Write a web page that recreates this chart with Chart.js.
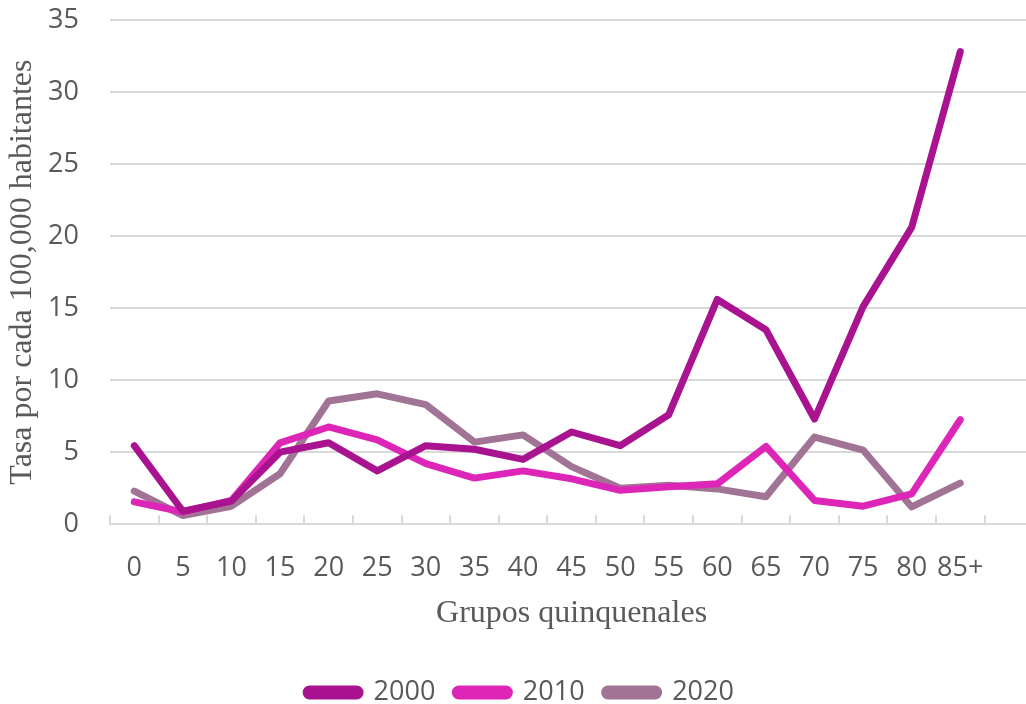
<!DOCTYPE html>
<html>
<head>
<meta charset="utf-8">
<script src="https://cdn.jsdelivr.net/npm/chart.js@4"></script>
<style>
  html, body { margin: 0; padding: 0; background: #fff; overflow: hidden; width: 1026px; height: 704px; }
  #wrap { position: absolute; left: 0; top: 0; width: 1046px; height: 720px; }
</style>
</head>
<body>
<div id="wrap"><canvas id="c" width="1046" height="720"></canvas></div>
<script>
const categories = ["0","5","10","15","20","25","30","35","40","45","50","55","60","65","70","75","80","85+",""];
const series2000 = [5.45, 0.9, 1.6, 5.0, 5.65, 3.7, 5.45, 5.2, 4.5, 6.4, 5.45, 7.6, 15.6, 13.5, 7.3, 15.1, 20.6, 32.8, null];
const series2010 = [1.55, 0.85, 1.65, 5.65, 6.75, 5.85, 4.2, 3.2, 3.7, 3.15, 2.35, 2.6, 2.8, 5.4, 1.65, 1.25, 2.1, 7.25, null];
const series2020 = [2.3, 0.6, 1.25, 3.5, 8.55, 9.05, 8.3, 5.7, 6.2, 4.0, 2.5, 2.7, 2.45, 1.9, 6.05, 5.15, 1.2, 2.85, null];
const yTicks = [0, 5, 10, 15, 20, 25, 30, 35];

const gridColor = '#d9d9d9';
const textColor = '#595959';

function ds(label, data, color) {
  return {
    label, data,
    borderColor: color, backgroundColor: color,
    borderWidth: 7, pointRadius: 0, pointHoverRadius: 0,
    tension: 0, borderCapStyle: 'round', borderJoinStyle: 'round',
    spanGaps: false
  };
}

new Chart(document.getElementById('c'), {
  type: 'line',
  data: {
    labels: categories,
    datasets: [
      ds('2000', series2000, '#a9138f'),
      ds('2010', series2010, '#dd26b7'),
      ds('2020', series2020, '#a17394')
    ]
  },
  options: {
    responsive: false,
    animation: false,
    layout: { padding: { left: 0, right: 6, top: 20, bottom: 4 } },
    plugins: {
      tooltip: { enabled: false },
      legend: {
        position: 'bottom',
        labels: {
          color: textColor,
          font: { family: 'Open Sans', size: 27 },
          boxWidth: 54, boxHeight: 7,
          useBorderRadius: true, borderRadius: 3.5,
          padding: 20
        }
      }
    },
    scales: {
      x: {
        type: 'category',
        offset: true,
        grid: {
          offset: true,
          drawOnChartArea: false,
          drawTicks: true,
          tickLength: -9,
          color: gridColor,
          lineWidth: 2
        },
        border: { display: true, color: gridColor, width: 2 },
        ticks: {
          color: textColor,
          font: { family: 'Open Sans', size: 27 },
          padding: 37,
          maxRotation: 0,
          autoSkip: false
        },
        title: {
          display: true,
          text: 'Grupos quinquenales',
          color: textColor,
          font: { family: 'Liberation Serif', size: 32 },
          padding: { top: -27, bottom: 26 }
        }
      },
      y: {
        min: 0, max: 35,
        afterBuildTicks: (s) => { s.ticks = yTicks.map(v => ({ value: v })); },
        afterFit: (s) => { s.width = 110; },
        grid: { color: gridColor, lineWidth: 2, drawTicks: true, tickLength: 31, tickColor: 'rgba(0,0,0,0)' },
        border: { display: false },
        ticks: {
          color: textColor,
          font: { family: 'Open Sans', size: 27 },
          padding: 0
        },
        title: {
          display: true,
          text: 'Tasa por cada 100,000 habitantes',
          color: textColor,
          font: { family: 'Liberation Serif', size: 32 },
          padding: { top: 3, bottom: 0 }
        }
      }
    }
  }
});
</script>
</body>
</html>
